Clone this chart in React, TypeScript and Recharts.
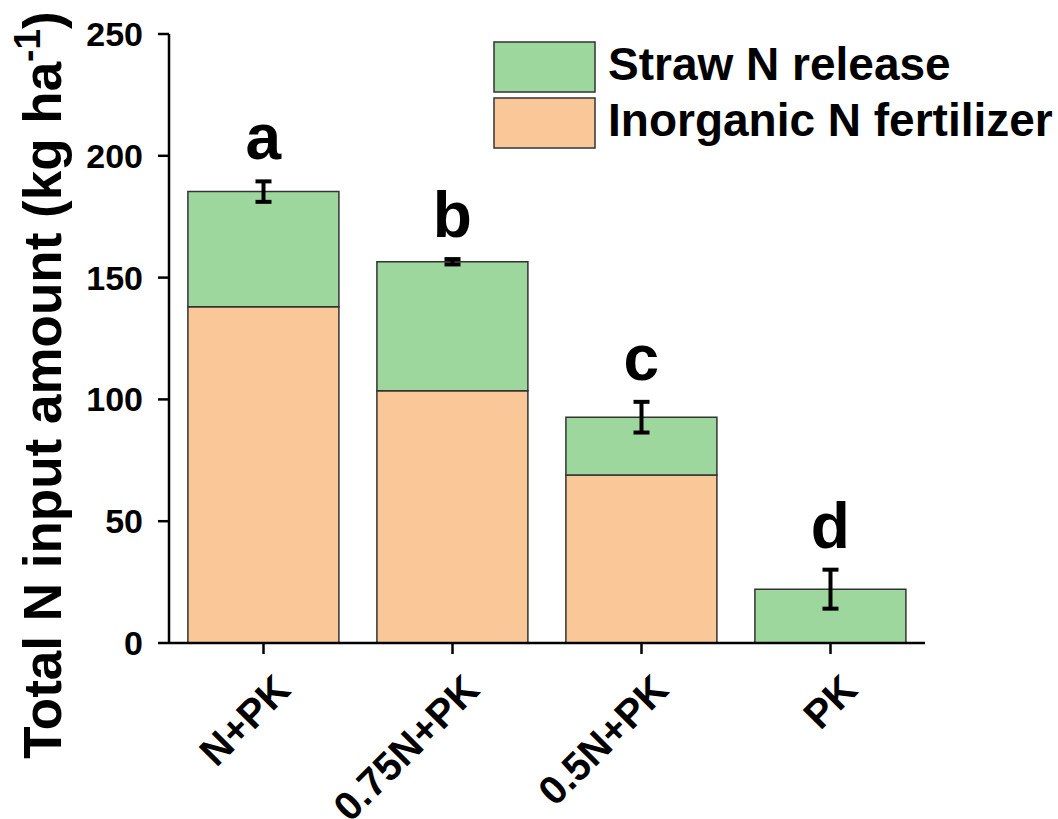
import {
  ComposedChart,
  Bar,
  Scatter,
  ErrorBar,
  LabelList,
  XAxis,
  YAxis,
  Legend,
} from 'recharts'

const categories = ['N+PK', '0.75N+PK', '0.5N+PK', 'PK']
const inorganic = [138, 103.5, 69, 0]
const straw = [47.3, 53, 23.7, 22.1]
const totalErr = [4.2, 1.1, 6.3, 8]
const letters = ['a', 'b', 'c', 'd']
const yTicks = [0, 50, 100, 150, 200, 250]

const GREEN = '#9ed79d'
const ORANGE = '#fac898'
const EDGE = '#333333'
const FONT = '"Liberation Sans", Arial, sans-serif'

const data = categories.map((name, i) => ({
  name,
  inorganic: inorganic[i],
  straw: straw[i],
  total: inorganic[i] + straw[i],
  err: totalErr[i],
}))

function XTick({ x, y, payload }: any) {
  return (
    <g transform={`translate(${x + 29},${y + 36})`}>
      <text
        transform="rotate(-45)"
        textAnchor="end"
        fontFamily={FONT}
        fontWeight="bold"
        fontSize={40}
        fill="#000"
      >
        {payload.value}
      </text>
    </g>
  )
}

function LetterLabel(props: any) {
  const { x, y, width, height, index } = props
  const pxPerUnit = height / straw[index]
  const top = y - totalErr[index] * pxPerUnit
  return (
    <text
      x={x + width / 2}
      y={top - 22}
      textAnchor="middle"
      fontFamily={FONT}
      fontWeight="bold"
      fontSize={64}
      fill="#000"
    >
      {letters[index]}
    </text>
  )
}

function YTitle() {
  return (
    <text
      x={61}
      y={385}
      transform="rotate(-90, 61, 385)"
      textAnchor="middle"
      fontFamily={FONT}
      fontWeight="bold"
      fontSize={53}
      fill="#000"
    >
      Total N input amount (kg ha
      <tspan fontSize={37} dy={-21}>-1</tspan>
      <tspan dy={21}>)</tspan>
    </text>
  )
}

const legendItems = [
  { label: 'Straw N release', color: GREEN },
  { label: 'Inorganic N fertilizer', color: ORANGE },
]

function LegendBox() {
  return (
    <svg width={570} height={112}>
      {legendItems.map((item, i) => (
        <g key={item.label} transform={`translate(4,${4 + i * 56})`}>
          <rect width={101} height={50} fill={item.color} stroke={EDGE} strokeWidth={1.5} />
          <text
            x={114}
            y={38}
            fontFamily={FONT}
            fontWeight="bold"
            fontSize={46}
            fill="#000"
          >
            {item.label}
          </text>
        </g>
      ))}
    </svg>
  )
}

export default function App() {
  return (
    <div style={{ position: 'absolute', left: 0, top: 0, background: '#fff' }}>
      <ComposedChart
        width={1058}
        height={819}
        data={data}
        margin={{ top: 34, right: 133, bottom: 0, left: 0 }}
        barCategoryGap="10%"
      >
        <XAxis
          dataKey="name"
          height={176}
          tickSize={11}
          interval={0}
          axisLine={{ stroke: '#000', strokeWidth: 2.5 }}
          tickLine={{ stroke: '#000', strokeWidth: 2.5 }}
          tick={<XTick />}
        />
        <YAxis
          width={169}
          domain={[0, 250]}
          ticks={yTicks}
          interval={0}
          tickSize={11}
          tickMargin={15}
          axisLine={{ stroke: '#000', strokeWidth: 2.5 }}
          tickLine={{ stroke: '#000', strokeWidth: 2.5 }}
          tick={{ fill: '#000', fontSize: 34, fontWeight: 'bold', fontFamily: FONT }}
          label={<YTitle />}
        />
        <Legend
          layout="vertical"
          align="center"
          verticalAlign="middle"
          content={<LegendBox />}
          wrapperStyle={{ position: 'absolute', left: 490, top: 38, width: 570 }}
        />
        <Bar
          dataKey="inorganic"
          stackId="n"
          fill={ORANGE}
          stroke={EDGE}
          strokeWidth={1.5}
          isAnimationActive={false}
        />
        <Bar
          dataKey="straw"
          stackId="n"
          fill={GREEN}
          stroke={EDGE}
          strokeWidth={1.5}
          isAnimationActive={false}
        >
          <LabelList dataKey="straw" content={<LetterLabel />} />
        </Bar>
        <Scatter dataKey="total" shape={() => <g />} isAnimationActive={false}>
          <ErrorBar dataKey="err" direction="y" width={8} strokeWidth={4} stroke="#000" />
        </Scatter>
      </ComposedChart>
    </div>
  )
}
